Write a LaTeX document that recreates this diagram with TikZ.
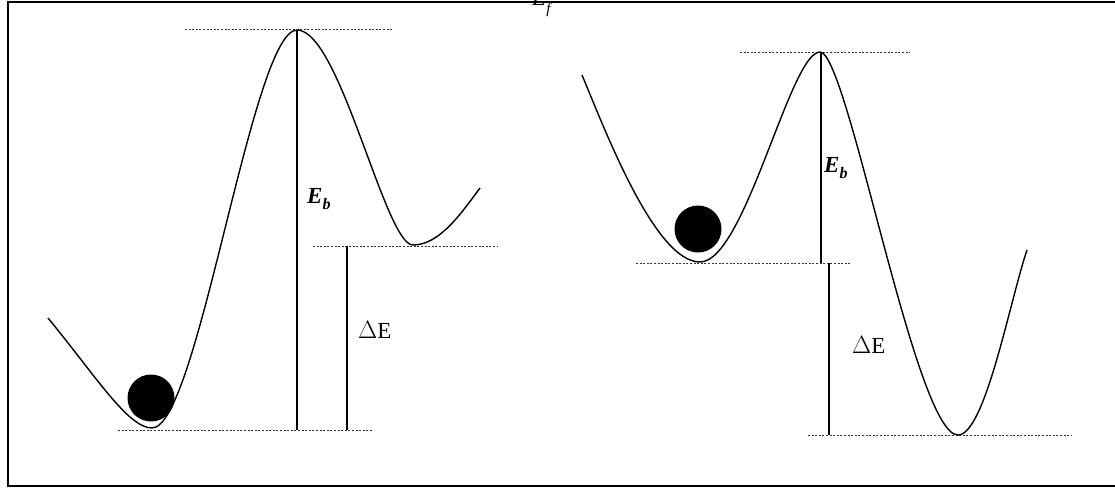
\documentclass[tikz,border=0pt]{standalone}
\usepackage{fontspec}
\setmainfont{Liberation Serif}
\begin{document}
\begin{tikzpicture}[x=1pt,y=-1pt,
  curve/.style={line width=1.4pt,line join=round},
  level/.style={line width=1pt,dash pattern=on 2pt off 1.6pt,black!80},
  vline/.style={line width=1.4pt},
  ball/.style={circle,fill=black,minimum size=47pt,inner sep=0pt},
  lab/.style={font=\fontsize{23}{26}\selectfont,inner sep=0pt,anchor=base west}]
\useasboundingbox (0,0) rectangle (1115,488);
% cut-off label at top
\node[lab] (ef) at (532,5) {\textit{E}\raisebox{-0.35em}{\textit{\fontsize{15}{16}\selectfont f}}};
% frame
\draw[line width=2.4pt] (1116,2) -- (8,2) -- (8,486) -- (1116,486);
% ---------- left diagram ----------
\coordinate (Lpk) at (297,30);
\coordinate (Lmin) at (152,428);
\coordinate (Lmin2) at (413,245);
\draw[level] (185,29) -- (392,29);
\draw[level] (313,246) -- (497,246);
\draw[level] (118,430) -- (372,430);
\draw[curve] (48,318) .. controls (95,375) and (128,428) .. (Lmin)
  .. controls (198,428) and (252,30) .. (Lpk)
  .. controls (340,30) and (385,245) .. (Lmin2)
  .. controls (440,245) and (462,212) .. (480,188);
\coordinate (LEbT) at (297,30);
\coordinate (LEbB) at (297,430);
\coordinate (LdET) at (347,246);
\coordinate (LdEB) at (347,430);
\draw[vline] (LEbT) -- (LEbB);
\draw[vline] (LdET) -- (LdEB);
\node[ball] (lball) at (151,398) {};
\node[lab] (lEb) at (307,203) {\textbf{\textit{E}}\raisebox{-0.3em}{\textbf{\textit{\fontsize{16}{17}\selectfont b}}}};
\node[lab] (ldE) at (358,338) {$\Delta$E};
% ---------- right diagram ----------
\coordinate (Rpk) at (820,52);
\coordinate (Rmin) at (700,262);
\coordinate (Rmin2) at (958,435);
\draw[level] (740,52) -- (910,52);
\draw[level] (636,263) -- (850,263);
\draw[level] (808,435) -- (1072,435);
\draw[curve] (582,75) .. controls (605,130) and (655,262) .. (Rmin)
  .. controls (745,262) and (790,52) .. (Rpk)
  .. controls (848,52) and (915,435) .. (Rmin2)
  .. controls (985,435) and (1010,300) .. (1027,250);
\coordinate (REbT) at (821,52);
\coordinate (REbB) at (821,263);
\coordinate (RdET) at (829,263);
\coordinate (RdEB) at (829,435);
\draw[vline] (REbT) -- (REbB);
\draw[vline] (RdET) -- (RdEB);
\node[ball] (rball) at (698,229) {};
\node[lab] (rEb) at (824,172) {\textbf{\textit{E}}\raisebox{-0.3em}{\textbf{\textit{\fontsize{16}{17}\selectfont b}}}};
\node[lab] (rdE) at (852,353) {$\Delta$E};
\end{tikzpicture}
\end{document}
